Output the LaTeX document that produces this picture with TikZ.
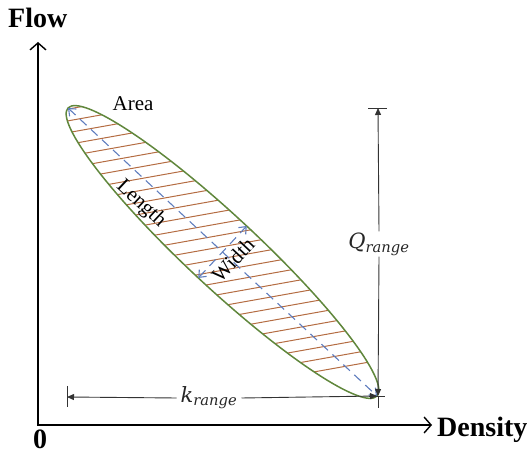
\documentclass[tikz,border=0pt]{standalone}
\usepackage{amsmath}
\usepackage{fontspec}
\setmainfont{Liberation Serif}
\newfontfamily\cmfont{DejaVu Serif}
\usetikzlibrary{arrows.meta,calc}
\definecolor{ellgreen}{RGB}{96,135,60}
\definecolor{hatchbrown}{RGB}{180,108,66}
\definecolor{dashblue}{RGB}{95,125,190}
\newcommand{\mvar}[1]{\text{\cmfont\itshape #1}}
\begin{document}
\begin{tikzpicture}[x=1pt,y=1pt,
  axisline/.style={line width=1.6pt,-{Straight Barb[length=7pt,width=16pt,line width=1.4pt]}},
  dimline/.style={line width=0.9pt,black!80},
  dimtip/.style={-{Triangle[length=7pt,width=6pt]}},
  bluedash/.style={dashblue,line width=1.1pt,dash pattern=on 9pt off 6pt,{Straight Barb[length=6pt,width=10pt]}-{Straight Barb[length=6pt,width=10pt]}},
  lab/.style={font=\fontsize{21}{23}\selectfont,inner sep=0pt},
  mathlab/.style={fill=white,font=\fontsize{21}{23}\selectfont,text=black!85},
  boldlab/.style={font=\fontsize{28}{30}\selectfont\bfseries,inner sep=0pt}]
\useasboundingbox (0,0) rectangle (532,454);
% axes
\coordinate (O) at (38,29);
\coordinate (ytop) at (38,412);
\coordinate (xend) at (432,29);
\draw[axisline] ([yshift=-0.8pt]O) -- (ytop);
\draw[axisline] ([xshift=-0.8pt]O) -- (xend);
\node[boldlab,anchor=west] (flow) at (8,436) {Flow};
\node[boldlab,anchor=west] (dens) at (437,24) {Density};
\node[boldlab] (zero) at (40,14.5) {0};
% ellipse
\coordinate (C) at (222.5,202);
\coordinate (T1) at (68,346);
\coordinate (T2) at (377,58);
\begin{scope}
  \clip[rotate around={-43:(C)}] (C) ellipse [x radius=211.2, y radius=35.5];
  \foreach \i in {0,...,32} {
    \draw[hatchbrown,line width=1pt] (0,{26+\i*11.8}) -- (532,{26+\i*11.8+95});
  }
\end{scope}
\draw[ellgreen,line width=1.5pt,rotate around={-43:(C)}] (C) ellipse [x radius=211.2, y radius=35.5];
% length and width
\draw[bluedash] (T1) -- (T2);
\coordinate (W1) at ($(C)+(-24.2,-26)$);
\coordinate (W2) at ($(C)+(24.2,26)$);
\draw[bluedash] (W1) -- (W2);
\node[lab,rotate=-43] (len) at (141,250) {Length};
\node[lab,rotate=47] (wid) at (233,194) {Width};
\node[lab] (area) at (133,350) {Area};
% Q range
\coordinate (Qt) at (378,346);
\coordinate (Qb) at (378,58);
\node[mathlab,inner sep=1pt] (Ql) at (379,210) {$\mvar{Q}_{\mvar{range}}$};
\draw[dimline,dimtip] (Ql.north) -- (Qt);
\draw[dimline,dimtip] (Ql.south) -- (Qb);
\draw[dimline] (368,346) -- (387,346);
\draw[dimline] (Qb) -- (378,46);
\draw[dimline] (369,58) -- (385,58);
% k range
\coordinate (Kl) at (67,57);
\coordinate (Kr) at (377,58);
\node[mathlab,inner sep=4pt] (Kla) at (209,56) {$\mvar{k}_{\mvar{range}}$};
\draw[dimline,dimtip] (Kla.west) -- (Kl);
\draw[dimline,dimtip] (Kla.east) -- (Kr);
\draw[dimline] (67,68) -- (67,47);
\end{tikzpicture}
\end{document}
